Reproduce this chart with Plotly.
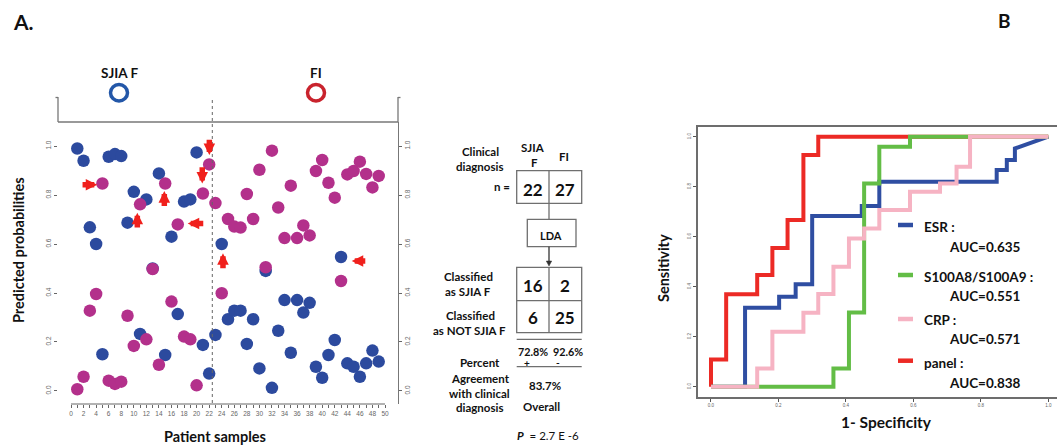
import plotly.graph_objects as go

W, H = 1057, 447

# ---------------- Panel A data ----------------
patients = list(range(1, 50))
sjia_prob = [0.99, 0.94, 0.668, 0.60, 0.15, 0.956, 0.967, 0.959, 0.687, 0.813,
             0.233, 0.782, 0.50, 0.888, 0.147, 0.63, 0.314, 0.773, 0.782, 0.974,
             0.188, 0.071, 0.229, 0.60, 0.293, 0.328, 0.328, 0.192, 0.293, 0.092,
             0.49, 0.013, 0.246, 0.371, 0.156, 0.371, 0.32, 0.36, 0.099, 0.054,
             0.147, 0.208, 0.547, 0.113, 0.099, 0.058, 0.113, 0.165, 0.12]
fi_prob = [0.007, 0.058, 0.328, 0.396, 0.847, 0.042, 0.029, 0.038, 0.307, 0.184,
           0.762, 0.211, 0.498, 0.107, 0.847, 0.365, 0.68, 0.222, 0.211, 0.023,
           0.806, 0.925, 0.767, 0.399, 0.702, 0.671, 0.667, 0.804, 0.702, 0.903,
           0.505, 0.981, 0.749, 0.624, 0.838, 0.624, 0.676, 0.635, 0.898, 0.943,
           0.85, 0.789, 0.449, 0.884, 0.898, 0.936, 0.886, 0.831, 0.878]
x_ticks = list(range(0, 51, 2))
y_ticks = [0.0, 0.2, 0.4, 0.6, 0.8, 1.0]
y_ticktext = ["0.0", "0.2", "0.4", "0.6", "0.8", "1.0"]
group_split = 22.5

# arrows: (tail_x, tail_y, head_x, head_y) in data units
arrow_tail_x = [1.6, 10.56, 14.86, 21.3, 20.9, 22.03, 24.2, 47.1]
arrow_tail_y = [0.842, 0.661, 0.749, 0.684, 0.919, 1.032, 0.495, 0.531]
arrow_head_x = [4.19, 10.56, 14.86, 18.58, 20.9, 22.03, 24.2, 44.7]
arrow_head_y = [0.842, 0.728, 0.816, 0.684, 0.847, 0.963, 0.562, 0.531]

# ---------------- Flowchart values ----------------
n_values = ["22", "27"]
classified = [["16", "2"], ["6", "25"]]
agreement = ["72.8%", "92.6%"]
overall = "83.7%"
p_value = "2.7 E -6"

# ---------------- Panel B data (ROC) ----------------
panel_fpr = [0, 0, 0.045, 0.045, 0.137, 0.137, 0.182, 0.182, 0.227, 0.227, 0.274, 0.274, 0.318, 0.318, 1.0]
panel_tpr = [0, 0.109, 0.109, 0.37, 0.37, 0.447, 0.447, 0.555, 0.555, 0.667, 0.667, 0.927, 0.927, 1.0, 1.0]
esr_fpr = [0, 0.101, 0.101, 0.202, 0.202, 0.251, 0.251, 0.30, 0.30, 0.447, 0.447, 0.499, 0.499,
           0.847, 0.847, 0.877, 0.877, 0.901, 0.901, 0.956, 1.0]
esr_tpr = [0, 0, 0.316, 0.316, 0.36, 0.36, 0.41, 0.41, 0.683, 0.683, 0.723, 0.723, 0.82,
           0.82, 0.867, 0.867, 0.907, 0.907, 0.953, 0.98, 1.0]
s100_fpr = [0, 0.363, 0.363, 0.409, 0.409, 0.454, 0.454, 0.499, 0.499, 0.59, 0.59, 1.0]
s100_tpr = [0, 0, 0.073, 0.073, 0.297, 0.297, 0.813, 0.813, 0.96, 0.96, 1.0, 1.0]
crp_fpr = [0, 0.137, 0.137, 0.182, 0.182, 0.274, 0.274, 0.318, 0.318, 0.363, 0.363, 0.409, 0.409,
           0.454, 0.454, 0.499, 0.499, 0.59, 0.59, 0.679, 0.679, 0.728, 0.728, 0.768, 0.768, 1.0]
crp_tpr = [0, 0, 0.073, 0.073, 0.22, 0.22, 0.296, 0.296, 0.371, 0.371, 0.48, 0.48, 0.593,
           0.593, 0.633, 0.633, 0.707, 0.707, 0.78, 0.78, 0.813, 0.813, 0.88, 0.88, 1.0, 1.0]
roc_names = ["ESR :", "S100A8/S100A9 :", "CRP :", "panel :"]
roc_auc = ["AUC=0.635", "AUC=0.551", "AUC=0.571", "AUC=0.838"]
roc_colors = ["#2F4EA2", "#63BD46", "#F6B3C3", "#EC2A25"]
roc_ticks = [0.0, 0.2, 0.4, 0.6, 0.8, 1.0]

BLUE_PT = "#2C4A9E"
MAG_PT = "#B3308B"
FONT = "Lato, 'Open Sans', sans-serif"


def px(x):
    return x / W


def py(y):
    return 1 - y / H


fig = go.Figure()

# Panel A scatter
fig.add_trace(go.Scatter(x=patients, y=sjia_prob, mode="markers",
                         marker=dict(color=BLUE_PT, size=12.5, line=dict(width=0)),
                         xaxis="x", yaxis="y", showlegend=False))
fig.add_trace(go.Scatter(x=patients, y=fi_prob, mode="markers",
                         marker=dict(color=MAG_PT, size=12.5, line=dict(width=0)),
                         xaxis="x", yaxis="y", showlegend=False))
# dummy trace for right axis
fig.add_trace(go.Scatter(x=[None], y=[None], xaxis="x", yaxis="y2", showlegend=False))

# Panel B ROC curves (draw order: panel, ESR, S100, CRP)
fig.add_trace(go.Scatter(x=panel_fpr, y=panel_tpr, mode="lines",
                         line=dict(color=roc_colors[3], width=4), xaxis="x2", yaxis="y3", showlegend=False))
fig.add_trace(go.Scatter(x=esr_fpr, y=esr_tpr, mode="lines",
                         line=dict(color=roc_colors[0], width=4), xaxis="x2", yaxis="y3", showlegend=False))
fig.add_trace(go.Scatter(x=s100_fpr, y=s100_tpr, mode="lines",
                         line=dict(color=roc_colors[1], width=4), xaxis="x2", yaxis="y3", showlegend=False))
fig.add_trace(go.Scatter(x=crp_fpr, y=crp_tpr, mode="lines",
                         line=dict(color=roc_colors[2], width=4), xaxis="x2", yaxis="y3", showlegend=False))

tickfont_small = dict(family="Arial", size=6.5, color="#666")

fig.update_layout(
    width=W, height=H, autosize=False,
    margin=dict(l=0, r=0, t=0, b=0),
    paper_bgcolor="white", plot_bgcolor="rgba(0,0,0,0)",
    showlegend=False,
    xaxis=dict(domain=[px(58), px(398)], range=[-2.07, 52.07], anchor="y",
               tickmode="array", tickvals=x_ticks, ticktext=[str(v) for v in x_ticks],
               ticks="outside", ticklen=3, tickcolor="#666", tickwidth=1,
               minor=dict(tickmode="array", tickvals=list(range(0, 51)), ticks="outside",
                          ticklen=3, tickcolor="#666", tickwidth=1),
               tickfont=tickfont_small, showgrid=False, zeroline=False, showline=False),
    yaxis=dict(domain=[py(404), py(122)], range=[-0.0531, 1.098], anchor="x",
               tickmode="array", tickvals=y_ticks, ticktext=y_ticktext, tickangle=-90,
               ticks="outside", ticklen=3, tickcolor="#666",
               tickfont=tickfont_small, showgrid=False, zeroline=False, showline=False),
    yaxis2=dict(overlaying="y", side="right", anchor="x", range=[-0.0531, 1.098],
                tickmode="array", tickvals=y_ticks, ticktext=y_ticktext, tickangle=-90,
                ticks="outside", ticklen=3, tickcolor="#666",
                tickfont=tickfont_small, showgrid=False, zeroline=False,
                showline=True, linecolor="#777", linewidth=1.3),
    xaxis2=dict(domain=[px(697.5), 1.0], range=[-0.04, 1.0258], anchor="y3",
                tickmode="array", tickvals=roc_ticks, ticktext=["0.0", "0.2", "0.4", "0.6", "0.8", "1.0"],
                ticks="outside", ticklen=3, tickcolor="#555",
                tickfont=dict(family="Arial", size=4.5, color="#666"),
                showgrid=False, zeroline=False, showline=True, mirror=True,
                linecolor="#6d6d6d", linewidth=1.6),
    yaxis3=dict(domain=[py(396.7), py(126.7)], range=[-0.04, 1.04], anchor="x2",
                tickmode="array", tickvals=roc_ticks, ticktext=["0.0", "0.2", "0.4", "0.6", "0.8", "1.0"],
                tickangle=-90, ticks="outside", ticklen=3, tickcolor="#555",
                tickfont=dict(family="Arial", size=4.5, color="#666"),
                showgrid=False, zeroline=False, showline=True,
                linecolor="#6d6d6d", linewidth=1.6),
)

shapes = []
GRAY = "#777"
# Panel A frame
shapes.append(dict(type="line", xref="paper", yref="paper", x0=px(58), x1=px(398), y0=py(122), y1=py(122),
                   line=dict(color=GRAY, width=1.3)))
shapes.append(dict(type="line", xref="paper", yref="paper", x0=px(58), x1=px(58), y0=py(97), y1=py(122),
                   line=dict(color=GRAY, width=1.3)))
shapes.append(dict(type="line", xref="paper", yref="paper", x0=px(398), x1=px(398), y0=py(97), y1=py(122),
                   line=dict(color=GRAY, width=1.3)))
shapes.append(dict(type="line", xref="paper", yref="paper", x0=px(55.5), x1=px(58), y0=py(97.5), y1=py(97.5),
                   line=dict(color=GRAY, width=1.3)))
shapes.append(dict(type="line", xref="paper", yref="paper", x0=px(398), x1=px(400.5), y0=py(97.5), y1=py(97.5),
                   line=dict(color=GRAY, width=1.3)))
# bottom axis line from 0 to 50
shapes.append(dict(type="line", xref="x", yref="paper", x0=0, x1=50, y0=py(404), y1=py(404),
                   line=dict(color="#666", width=1)))
# dotted divider
shapes.append(dict(type="line", xref="x", yref="paper", x0=group_split, x1=group_split, y0=py(100), y1=py(404),
                   line=dict(color="#666", width=1, dash="dot")))
# group circles
shapes.append(dict(type="circle", xref="paper", yref="paper", x0=px(110.5), x1=px(127.5), y0=py(101), y1=py(84.5),
                   line=dict(color="#2357A8", width=3.5)))
shapes.append(dict(type="circle", xref="paper", yref="paper", x0=px(307.5), x1=px(324.5), y0=py(101), y1=py(84.5),
                   line=dict(color="#C9232D", width=3.5)))

# Flowchart boxes
BOX = "#6f6f6f"
def rect(x0, y0, x1, y1):
    return dict(type="rect", xref="paper", yref="paper", x0=px(x0), x1=px(x1), y0=py(y1), y1=py(y0),
                line=dict(color=BOX, width=1.3))
def hline(x0, x1, y, w=1.3):
    return dict(type="line", xref="paper", yref="paper", x0=px(x0), x1=px(x1), y0=py(y), y1=py(y),
                line=dict(color=BOX, width=w))
def vline(x, y0, y1, w=1.3, color=BOX):
    return dict(type="line", xref="paper", yref="paper", x0=px(x), x1=px(x), y0=py(y0), y1=py(y1),
                line=dict(color=color, width=w))

shapes.append(rect(516.7, 170.7, 581.7, 203.3))
shapes.append(vline(549, 170.7, 203.3))
shapes.append(vline(549, 203.3, 219.3))
shapes.append(rect(527.3, 219.3, 576, 246.7))
shapes.append(vline(549, 246.7, 262, color="#333"))
shapes.append(dict(type="path", xref="paper", yref="paper",
                   path=f"M {px(546.3)} {py(261)} L {px(551.7)} {py(261)} L {px(549)} {py(266)} Z",
                   fillcolor="#333", line=dict(color="#333", width=0.5)))
shapes.append(rect(516.7, 267.3, 581.7, 332.7))
shapes.append(hline(516.7, 581.7, 300.7))
shapes.append(vline(549, 267.3, 332.7))
shapes.append(hline(516.7, 581.7, 339.3))
shapes.append(hline(516.7, 581.7, 366.7))

# ROC legend line samples
leg_y = [225, 275, 319, 360.7]
for yy, col in zip(leg_y, roc_colors):
    shapes.append(dict(type="line", xref="paper", yref="paper", x0=px(898), x1=px(913), y0=py(yy), y1=py(yy),
                       line=dict(color=col, width=4.5)))

fig.update_layout(shapes=shapes)

ann = []
def txt(x, y, s, size=12, anchor="center", color="#111", angle=0, family=FONT):
    ann.append(dict(x=px(x), y=py(y), xref="paper", yref="paper", text=s, showarrow=False,
                    xanchor=anchor, yanchor="middle", textangle=angle,
                    font=dict(family=family, size=size, color=color)))

# panel labels
txt(23, 21, "<b>A.</b>", size=21)
txt(1004, 20, "<b>B</b>", size=19)
# panel A labels
txt(119, 73, "<b>SJIA F</b>", size=13.5)
txt(315.7, 73, "<b>FI</b>", size=13.5)
txt(18, 250, "<b>Predicted probabilities</b>", size=14.5, angle=-90)
txt(215, 436, "<b>Patient samples</b>", size=14.5)

# flowchart texts
txt(480, 151.7, "<b>Clinical</b>", size=11.5)
txt(479.3, 166.7, "<b>diagnosis</b>", size=11.5)
txt(533.3, 147.7, "<b>SJIA</b>", size=11.5)
txt(534, 162.7, "<b>F</b>", size=11.5)
txt(564, 156.7, "<b>FI</b>", size=11.5)
txt(502, 186.7, "<b>n =</b>", size=11.5)
txt(532.7, 189.3, f"<b>{n_values[0]}</b>", size=17)
txt(565, 189.3, f"<b>{n_values[1]}</b>", size=17)
txt(550.7, 235, "<b>LDA</b>", size=11)
txt(468.3, 276.7, "<b>Classified</b>", size=11.5)
txt(468.3, 291.7, "<b>as SJIA F</b>", size=11.5)
txt(470, 315, "<b>Classified</b>", size=11.5)
txt(469.3, 330, "<b>as NOT SJIA F</b>", size=11.5)
txt(532.7, 285.7, f"<b>{classified[0][0]}</b>", size=17)
txt(565, 285.7, f"<b>{classified[0][1]}</b>", size=17)
txt(532.7, 317.7, f"<b>{classified[1][0]}</b>", size=17)
txt(565, 317.7, f"<b>{classified[1][1]}</b>", size=17)
txt(532.5, 351.7, f"<b>{agreement[0]}</b>", size=10.8)
txt(567.5, 351.7, f"<b>{agreement[1]}</b>", size=10.8)
txt(526.7, 362.5, "<b>+</b>", size=10)
txt(558.3, 362, "<b>-</b>", size=10)
txt(480, 362.3, "<b>Percent</b>", size=11.5)
txt(480, 378.3, "<b>Agreement</b>", size=11.5)
txt(479.3, 393, "<b>with clinical</b>", size=11.5)
txt(479.3, 407.3, "<b>diagnosis</b>", size=11.5)
txt(545, 385, f"<b>{overall}</b>", size=11.5)
txt(541.7, 406, "<b>Overall</b>", size=11.5)
txt(548.3, 435, f"<b><i>P</i></b>  = {p_value}", size=11.5)

# panel B labels
txt(663, 268, "<b>Sensitivity</b>", size=14.5, angle=-90)
txt(886.7, 421.7, "<b>1- Specificity</b>", size=15.5)
leg_text_y = [226.7, 276.7, 320, 363.3]
leg_auc_y = [246.7, 295.7, 339, 383.3]
for name, auc, ty, ay in zip(roc_names, roc_auc, leg_text_y, leg_auc_y):
    txt(921.7, ty, f"<b>{name}</b>", size=13.5, anchor="left")
    txt(946.7, ay, f"<b>{auc}</b>", size=13.5, anchor="left")

# red arrows
for tx, ty, hx, hy in zip(arrow_tail_x, arrow_tail_y, arrow_head_x, arrow_head_y):
    ann.append(dict(x=hx, y=hy, ax=tx, ay=ty, xref="x", yref="y", axref="x", ayref="y",
                    text="", showarrow=True, arrowhead=2, arrowsize=0.42, arrowwidth=5.5,
                    arrowcolor="#F0201C", standoff=0, startstandoff=0))

fig.update_layout(annotations=ann)

fig.write_html("out.html",
               config={"displayModeBar": False},
               post_script="document.body.style.margin='0';document.body.style.padding='0';"
                           "document.body.style.overflow='hidden';")
